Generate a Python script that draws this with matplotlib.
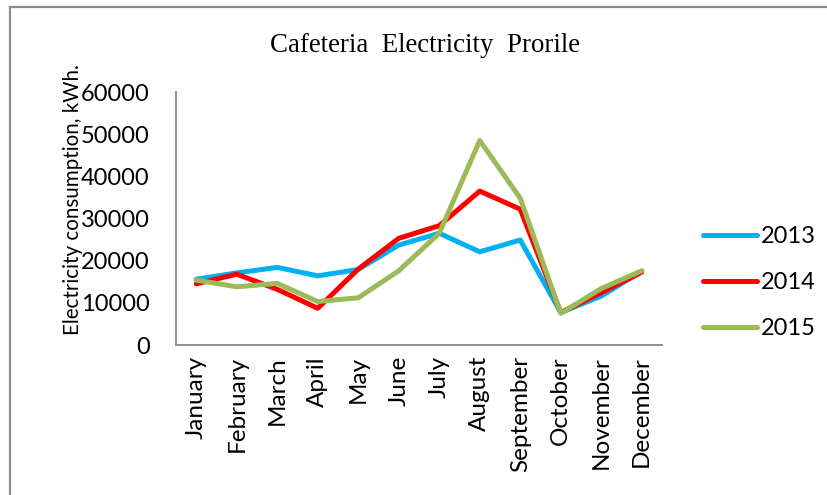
import matplotlib
matplotlib.use('Agg')
import matplotlib.pyplot as plt
from matplotlib.lines import Line2D

months = ['January', 'February', 'March', 'April', 'May', 'June', 'July',
          'August', 'September', 'October', 'November', 'December']
y2013 = [15600, 17100, 18400, 16400, 17900, 23700, 26500, 22100, 24900, 7700, 11600, 17500]
y2014 = [14500, 16800, 13200, 8700, 18000, 25300, 28300, 36500, 32200, 7700, 12400, 17300]
y2015 = [15400, 13800, 14600, 10300, 11200, 17600, 26500, 48500, 34800, 7500, 13400, 17600]
years = ['2013', '2014', '2015']
colors = ['#00B0F0', '#FF0000', '#9BBB59']
yticks = [0, 10000, 20000, 30000, 40000, 50000, 60000]

W, H = 827, 495
fig = plt.figure(figsize=(W / 100, H / 100), dpi=100)
ax = fig.add_axes([176 / W, 1 - 345 / H, (662 - 176) / W, (345 - 92) / H])

x = range(len(months))
for vals, lab, c in zip([y2013, y2014, y2015], years, colors):
    ax.plot(x, vals, color=c, lw=3.6, label=lab, solid_joinstyle='round',
            solid_capstyle='round')

ax.set_xlim(-0.5, len(months) - 0.5)
ax.set_ylim(0, 60000)
ax.set_yticks(yticks)
ax.set_xticks(list(x))
ax.set_xticklabels(months, rotation=90)
for side in ('top', 'right'):
    ax.spines[side].set_visible(False)
for side in ('left', 'bottom'):
    ax.spines[side].set_color('#868686')
    ax.spines[side].set_linewidth(1.3)
ax.tick_params(length=0, labelsize=17, pad=8)
ax.tick_params(axis='x', labelsize=17.5)
ax.tick_params(axis='y', pad=19)
for t in ax.get_xticklabels() + ax.get_yticklabels():
    t.set_fontfamily('Lato')
ax.set_ylabel('Electricity consumption, kWh.', fontsize=14.8, family='Lato', va='center')
ax.yaxis.set_label_coords(-0.212, 0.573)

leg = ax.legend(loc='center left', bbox_to_anchor=(1.04, 0.246), frameon=False,
                prop={'family': 'Lato', 'size': 17}, handlelength=2.3,
                handletextpad=0.15, labelspacing=1.05)
for h in leg.get_lines():
    h.set_solid_capstyle('round')

fig.text(0.514, 1 - 45 / H, 'Cafeteria  Electricity  Prorile', ha='center', va='center',
         fontsize=19.4, family='Liberation Serif')

# outer frame (left and top edges only)
fig.add_artist(Line2D([9.5 / W, 9.5 / W], [0, 1 - 7 / H], color='#8c8c8c', lw=1.6,
                      transform=fig.transFigure))
fig.add_artist(Line2D([9.5 / W, 1], [1 - 7 / H, 1 - 7 / H], color='#8c8c8c', lw=1.6,
                      transform=fig.transFigure))

fig.savefig('out.png', dpi=100)
